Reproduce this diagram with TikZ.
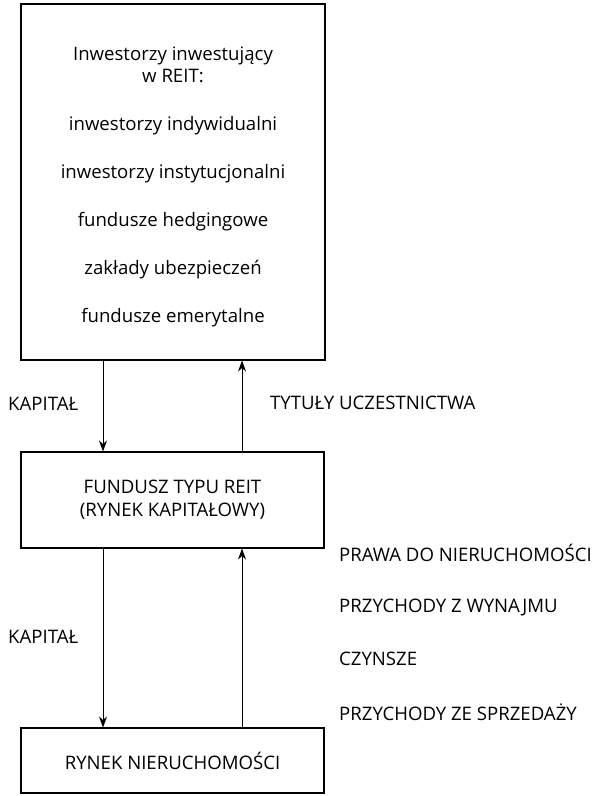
\documentclass[tikz,border=0pt]{standalone}
\usepackage{fontspec}
\setmainfont{Open Sans}
\usetikzlibrary{arrows.meta,positioning}
\tikzset{
  blok/.style={draw, line width=1.1pt, inner sep=0pt},
  etykieta/.style={anchor=west, inner sep=0pt, font=\fontsize{18.6}{21}\selectfont},
  strzalka/.style={-{Stealth[length=11pt, width=8pt]}, line width=1pt}
}
\begin{document}
\begin{tikzpicture}[x=1pt, y=-1pt, >=Stealth]
    \useasboundingbox (0,0) rectangle (595,796);

    % Boxes
    \node[blok, minimum width=304pt, minimum height=356pt] (inw) at (173,182) {};
    \node[align=center, inner sep=0pt, font=\fontsize{18.6}{22}\selectfont]
        (inwtekst) at (173,187)
        {Inwestorzy inwestujący\\ w REIT:\\[26pt]
         inwestorzy indywidualni\\[26pt]
         inwestorzy instytucjonalni\\[26pt]
         fundusze hedgingowe\\[26pt]
         zakłady ubezpieczeń\\[26pt]
         fundusze emerytalne};
    \node[blok, minimum width=303pt, minimum height=96pt, align=center,
          font=\fontsize{18.6}{23}\selectfont] (reit) at (172.5,500)
        {FUNDUSZ TYPU REIT\\(RYNEK KAPITAŁOWY)};
    \node[blok, minimum width=303pt, minimum height=65pt,
          font=\fontsize{18.6}{21}\selectfont] (rynek) at (172.5,760.5)
        {RYNEK NIERUCHOMOŚCI};

    % Arrow columns
    \coordinate (lewa) at (103,0);
    \coordinate (prawa) at (242,0);

    % Flows
    \draw[strzalka] (inw.south -| lewa) -- (reit.north -| lewa);
    \draw[strzalka] (reit.north -| prawa) -- (inw.south -| prawa);
    \draw[strzalka] (reit.south -| lewa) -- (rynek.north -| lewa);
    \draw[strzalka] (rynek.north -| prawa) -- (reit.south -| prawa);

    % Labels
    \node[etykieta] (kap1) at (8,404) {KAPITAŁ};
    \node[etykieta] (tyt) at (270,403) {TYTUŁY UCZESTNICTWA};
    \node[etykieta] (kap2) at (8,637) {KAPITAŁ};
    \node[etykieta] (praw) at (339,553) {PRAWA DO NIERUCHOMOŚCI};
    \node[etykieta] (wyn) at (339,607) {PRZYCHODY Z WYNAJMU};
    \node[etykieta] (czy) at (339,659) {CZYNSZE};
    \node[etykieta] (sprz) at (339,712) {PRZYCHODY ZE SPRZEDAŻY};
\end{tikzpicture}
\end{document}
